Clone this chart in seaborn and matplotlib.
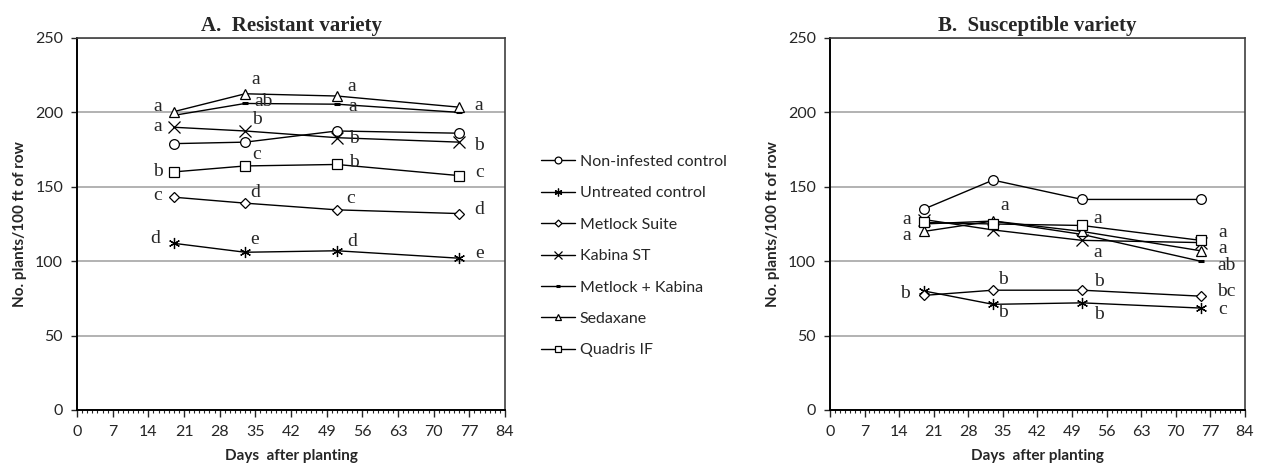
import numpy as np
import pandas as pd
import matplotlib
matplotlib.use('Agg')
import matplotlib.pyplot as plt
from matplotlib.ticker import MultipleLocator
import seaborn as sns

#data
days = [19, 33, 51, 75]
treatments = ['Non-infested control', 'Untreated control', 'Metlock Suite', 'Kabina ST',
              'Metlock + Kabina', 'Sedaxane', 'Quadris IF']

#A. resistant variety
res_noninf = [179, 180, 187.5, 186]
res_untreated = [112, 106, 107, 102]
res_metlock = [143, 139, 134.5, 132]
res_kabina = [190, 187.5, 183, 180]
res_metkab = [198, 206, 205.5, 200]
res_sedaxane = [200.5, 212.5, 211, 203.5]
res_quadris = [160, 164, 165, 157.5]

#B. susceptible variety
sus_noninf = [135, 154.5, 141.5, 141.5]
sus_untreated = [80, 71, 72, 68.5]
sus_metlock = [77, 80.5, 80.5, 76.5]
sus_kabina = [128, 121, 114, 112.5]
sus_metkab = [125, 127, 118, 100]
sus_sedaxane = [120, 127, 120, 107]
sus_quadris = [126, 125, 124, 114]

#mean separation letters
res_letters = [['', '', '', ''], ['d', 'e', 'd', 'e'], ['c', 'd', 'c', 'd'], ['a', 'b', 'b', 'b'],
               ['', 'ab', 'a', ''], ['a', 'a', 'a', 'a'], ['b', 'c', 'b', 'c']]
sus_letters = [['', '', '', ''], ['b', 'b', 'b', 'c'], ['', 'b', 'b', 'bc'], ['', '', 'a', ''],
               ['', 'a', '', 'ab'], ['a', '', '', 'a'], ['a', '', 'a', 'a']]

#letter offsets (pixels)
res_offsets = [[(0, 0)] * 4,
               [(-19, 5), (9, 13), (15, 9), (20, 5)],
               [(-16, 2), (10, 11), (14, 11), (20, 4)],
               [(-16, 1), (12, 11), (17, -1), (20, -3)],
               [(0, 0), (18, 2), (16, -2), (0, 0)],
               [(-16, 5), (11, 14), (15, 10), (20, 2)],
               [(-16, 0), (11, 11), (17, 2), (20, 3)]]
sus_offsets = [[(0, 0)] * 4,
               [(-19, -3), (10, -8), (17, -12), (22, -1)],
               [(0, 0), (10, 11), (17, 9), (26, 5)],
               [(0, 0), (0, 0), (16, -12), (0, 0)],
               [(0, 0), (12, 16), (0, 0), (26, -4)],
               [(-17, -4), (0, 0), (0, 0), (22, 2)],
               [(-17, 3), (0, 0), (16, 7), (22, 8)]]

markers = ['o', (6, 2, 0), 'D', 'x', '_', '^', 's']
msizes = [7, 8, 5, 8, 5, 7, 7]
mews = [0.9, 0.9, 0.9, 0.9, 2.2, 0.9, 0.9]


def make_long(vals):
    rows = []
    for name, v in zip(treatments, vals):
        for d, c in zip(days, v):
            rows.append({'day': d, 'count': c, 'treatment': name})
    return pd.DataFrame(rows)


res_df = make_long([res_noninf, res_untreated, res_metlock, res_kabina, res_metkab, res_sedaxane, res_quadris])
sus_df = make_long([sus_noninf, sus_untreated, sus_metlock, sus_kabina, sus_metkab, sus_sedaxane, sus_quadris])

sns.set_style('white')
plt.rcParams['font.family'] = ['Lato', 'DejaVu Sans']

fig = plt.figure(figsize=(12.65, 4.66), dpi=100)
axA = fig.add_axes([0.0609, 0.1202, 0.3383, 0.7983])
axB = fig.add_axes([0.6561, 0.1202, 0.3281, 0.7983])


def draw_panel(ax, df, letters, offsets, title):
    for i, name in enumerate(treatments):
        sub = df[df['treatment'] == name]
        sns.lineplot(data=sub, x='day', y='count', ax=ax, color='black', lw=1.0,
                     marker=markers[i], ms=msizes[i], mfc='white', mec='black',
                     mew=mews[i], label=name, legend=False)
        for j, d in enumerate(days):
            if letters[i][j]:
                ax.annotate(letters[i][j], (d, sub['count'].values[j]),
                            xytext=offsets[i][j], textcoords='offset pixels',
                            ha='center', va='center', fontsize=14,
                            family='Liberation Serif')
    ax.set_xlim(0, 84)
    ax.set_ylim(0, 250)
    ax.set_xticks(range(0, 85, 7))
    ax.xaxis.set_minor_locator(MultipleLocator(1))
    ax.set_yticks(range(0, 251, 50))
    ax.yaxis.grid(True, color='#a6a6a6', lw=1.2)
    ax.xaxis.grid(False)
    ax.set_axisbelow(True)
    ax.tick_params(axis='x', which='major', bottom=True, direction='out', length=5,
                   width=1, pad=6, labelsize=11.5)
    ax.tick_params(axis='x', which='minor', bottom=True, direction='out', length=2.5, width=0.8)
    ax.tick_params(axis='y', which='major', left=True, direction='out', length=4,
                   width=1, pad=6, labelsize=11.5)
    for s in ['left', 'bottom']:
        ax.spines[s].set_color('black')
        ax.spines[s].set_linewidth(1.4)
    for s in ['top', 'right']:
        ax.spines[s].set_color('#404040')
        ax.spines[s].set_linewidth(1.2)
    ax.set_xlabel('Days  after planting', fontsize=11, fontweight='bold', labelpad=7)
    ax.set_ylabel('No. plants/100 ft of row', fontsize=11, fontweight='bold', labelpad=6)
    ax.set_title(title, fontsize=15, fontweight='bold', family='Liberation Serif', pad=5)


draw_panel(axA, res_df, res_letters, res_offsets, 'A.  Resistant variety')
draw_panel(axB, sus_df, sus_letters, sus_offsets, 'B.  Susceptible variety')

handles, labels = axA.get_legend_handles_labels()
fig.legend(handles, labels, loc='upper left', bbox_to_anchor=(0.428, 0.668),
           frameon=False, handlelength=2.1, handletextpad=0.3, labelspacing=1.08,
           fontsize=11.5, markerscale=0.7, borderpad=0, borderaxespad=0)

fig.savefig('out.png', dpi=100)
